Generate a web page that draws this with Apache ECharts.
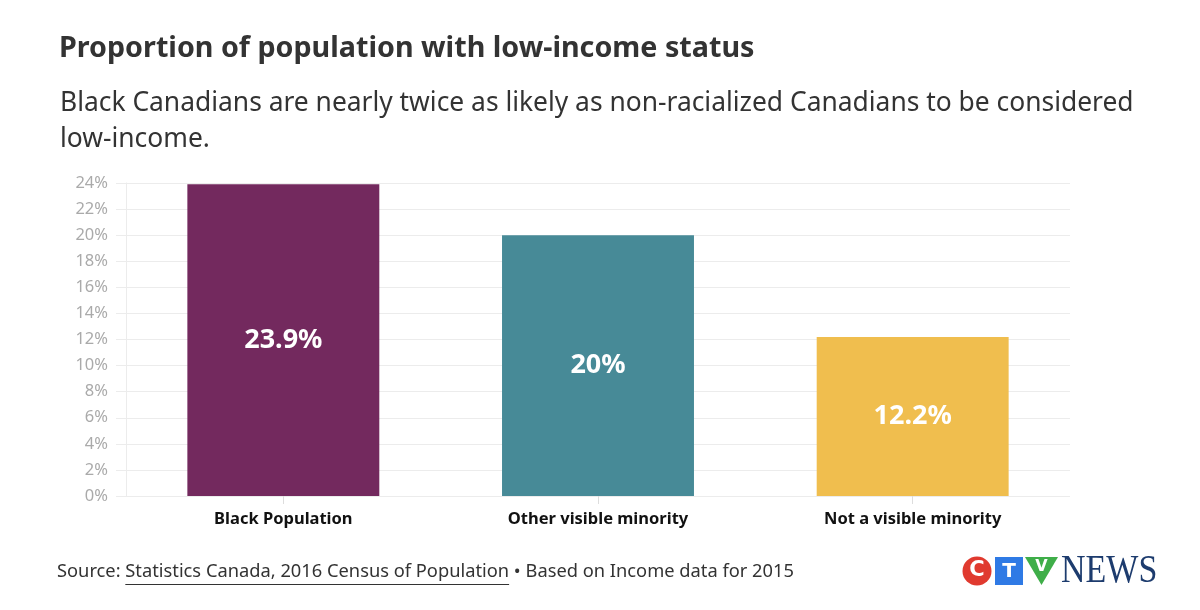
<!DOCTYPE html>
<html><head><meta charset="utf-8">
<script src="https://cdn.jsdelivr.net/npm/echarts@6/dist/echarts.min.js"></script>
<style>html,body{margin:0;padding:0;background:#fff}#c{width:1200px;height:610px}</style>
</head><body><div id="c"></div>
<script>
const categories = ["Black Population", "Other visible minority", "Not a visible minority"];
const values = [23.9, 20, 12.2];
const valueLabels = ["23.9%", "20%", "12.2%"];
const barColors = ["#73295e", "#478a97", "#f0be4e"];
const yTicks = [0, 2, 4, 6, 8, 10, 12, 14, 16, 18, 20, 22, 24];

const FONT = "'Noto Sans', 'Open Sans', sans-serif";
const chart = echarts.init(document.getElementById('c'), null, {renderer: 'canvas'});

// measure for underline
const SRC_FONT = "18.3px 'Noto Sans'";
const cv = document.createElement('canvas').getContext('2d');
cv.font = SRC_FONT;
const srcPrefix = "Source: ";
const srcLink = "Statistics Canada, 2016 Census of Population";
const srcRest = " \u2022 Based on Income data for 2015";
const x0 = 57 + cv.measureText(srcPrefix).width;
const x1 = x0 + cv.measureText(srcLink).width;

chart.setOption({
  animation: false,
  grid: {left: 126, right: 130, top: 183, bottom: 114, containLabel: false},
  title: [
    {text: "Proportion of population with low-income status", left: 54, top: 29,
     textStyle: {fontFamily: FONT, fontWeight: 'bold', fontSize: 28.7, color: '#333'}},
    {text: "Black Canadians are nearly twice as likely as non-racialized Canadians to be considered\nlow-income.", left: 55, top: 80,
     textStyle: {fontFamily: FONT, fontWeight: 'normal', fontSize: 26.4, color: '#333', lineHeight: 36}}
  ],
  xAxis: {
    type: 'category', data: categories,
    axisLine: {show: false},
    axisTick: {show: true, alignWithLabel: true, length: 8, lineStyle: {color: '#ddd'}},
    axisLabel: {fontFamily: FONT, fontWeight: 'bold', fontSize: 16.5, color: '#111', margin: 15}
  },
  yAxis: {
    type: 'value', min: 0, max: 24, interval: 2,
    axisLine: {show: true, lineStyle: {color: '#ececec'}},
    axisTick: {show: true, length: 10, lineStyle: {color: '#ececec'}},
    splitLine: {lineStyle: {color: '#ececec', width: 1}},
    axisLabel: {fontFamily: FONT, fontSize: 16.5, color: '#aaa', margin: 18,
      formatter: v => v + '%'}
  },
  series: [{
    type: 'bar', barWidth: '61%',
    data: values.map((v, i) => ({value: v, itemStyle: {color: barColors[i]}})),
    label: {show: true, position: 'inside', fontFamily: FONT, fontWeight: 'bold', fontSize: 27, color: '#fff',
      formatter: p => valueLabels[p.dataIndex]}
  }],
  graphic: [
    {type: 'text', left: 57, top: 563, style: {
      text: srcPrefix + srcLink + srcRest, font: SRC_FONT, fill: '#333'}},
    {type: 'line', shape: {x1: x0, y1: 584.5, x2: x1, y2: 584.5}, style: {stroke: '#333', lineWidth: 1}},
    // CTV News logo
    {type: 'circle', shape: {cx: 977, cy: 571, r: 14.5}, style: {fill: '#e03a2f'}},
    {type: 'text', x: 977, y: 571, style: {text: 'C', font: "bold 21px 'DejaVu Sans'", fill: '#fff', textAlign: 'center', textVerticalAlign: 'middle'}},
    {type: 'rect', shape: {x: 995, y: 557, width: 28, height: 28}, style: {fill: '#2f7ae5'}},
    {type: 'text', x: 1009, y: 572, style: {text: 'T', font: "bold 20px 'DejaVu Sans'", fill: '#fff', textAlign: 'center', textVerticalAlign: 'middle'}},
    {type: 'polygon', shape: {points: [[1025, 557], [1058, 557], [1041.5, 585]]}, style: {fill: '#3fae49'}},
    {type: 'text', x: 1041.5, y: 567, style: {text: 'V', font: "bold 16px 'DejaVu Sans'", fill: '#fff', textAlign: 'center', textVerticalAlign: 'middle'}},
    {type: 'text', x: 1061, y: 572, scaleY: 1.15,
     style: {text: 'NEWS', font: "34px 'Liberation Serif'", fill: '#1d3c6e', textVerticalAlign: 'middle'}}
  ]
});
</script></body></html>
